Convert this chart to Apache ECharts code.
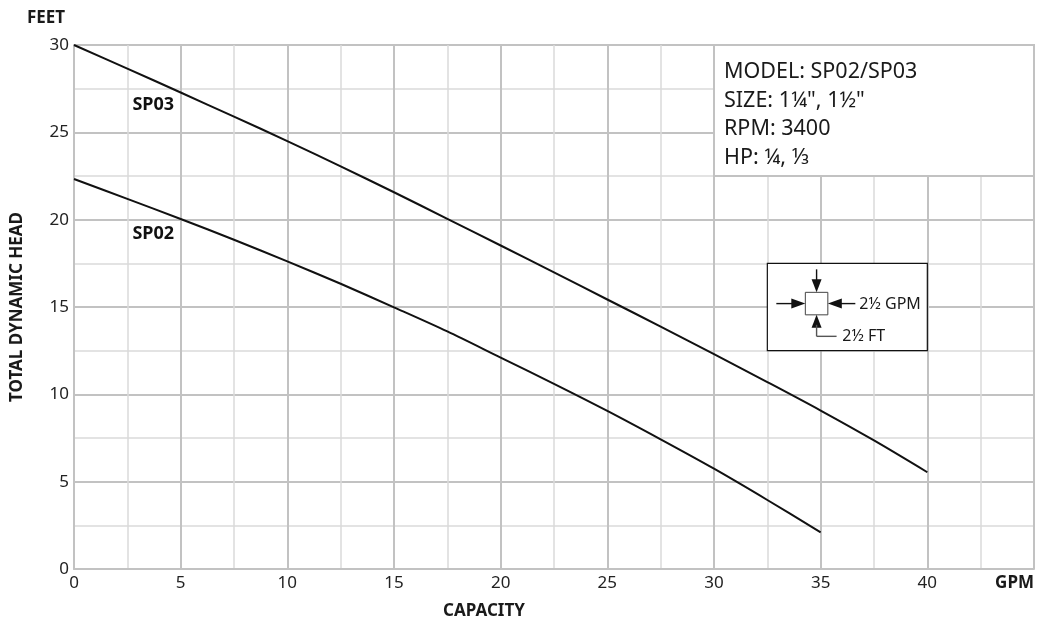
<!DOCTYPE html>
<html><head><meta charset="utf-8">
<script src="https://cdn.jsdelivr.net/npm/echarts@6/dist/echarts.min.js"></script>
<style>html,body{margin:0;padding:0;background:#fff}#c{width:1044px;height:620px}</style>
</head><body><div id="c"></div>
<script>
// ---- data ----
const gpmSP03 = [0,2.5,5,7.5,10,12.5,15,17.5,20,22.5,25,27.5,30,32.5,35,37.5,40];
const headSP03 = [30,28.65,27.28,25.9,24.5,23.05,21.57,20.05,18.52,16.98,15.43,13.88,12.3,10.7,9.07,7.36,5.54];
const gpmSP02 = [0,2.5,5,7.5,10,12.5,15,17.5,20,22.5,25,27.5,30,32.5,35];
const headSP02 = [22.33,21.19,20.04,18.85,17.61,16.33,14.98,13.6,12.1,10.6,9.05,7.42,5.74,3.95,2.1];
const curveNames = ['SP03','SP02'];
const curveLabelPos = [[2.74,26.6],[2.74,19.2]];
const infoLines = ['MODEL: SP02/SP03','SIZE: 1¼", 1½"','RPM: 3400','HP: ¼, ⅓'];
const xUnit = 'GPM';
const yUnit = 'FEET';
const xTitle = 'CAPACITY';
const yTitle = 'TOTAL DYNAMIC HEAD';
const scaleText = ['2½ GPM','2½ FT'];

const FONT = '"Noto Sans", "DejaVu Sans", sans-serif';
const major = '#c2c2c2', minor = '#dadada';
const chart = echarts.init(document.getElementById('c'), null, {renderer:'canvas'});

function pairs(xs, ys){ return xs.map((x,i)=>[x, ys[i]]); }

const option = {
  animation:false,
  backgroundColor:'#fff',
  grid:{left:74, right:10, top:45, bottom:51, containLabel:false, outerBoundsMode:'none'},
  xAxis:{
    type:'value', min:0, max:45, interval:5,
    axisLine:{show:true, lineStyle:{color:major, width:2}},
    axisTick:{show:false},
    axisLabel:{margin:6, color:'#222', fontSize:17, fontFamily:FONT, alignMaxLabel:'right',
      formatter:v=> v===45 ? '{b|'+xUnit+'}' : String(v),
      rich:{b:{fontWeight:'bold', fontSize:17, color:'#1a1a1a', fontFamily:FONT}}},
    splitLine:{show:true, lineStyle:{color:major, width:2}},
    minorTick:{show:false, splitNumber:2},
    minorSplitLine:{show:true, lineStyle:{color:minor, width:1.5}}
  },
  yAxis:{
    type:'value', min:0, max:30, interval:5,
    name:yTitle, nameLocation:'middle', nameGap:48,
    nameTextStyle:{fontWeight:'bold', fontSize:17, color:'#1a1a1a', fontFamily:FONT},
    axisLine:{show:true, lineStyle:{color:major, width:2}},
    axisTick:{show:false},
    axisLabel:{margin:5, color:'#222', fontSize:17, fontFamily:FONT},
    splitLine:{show:true, lineStyle:{color:major, width:2}},
    minorTick:{show:false, splitNumber:2},
    minorSplitLine:{show:true, lineStyle:{color:minor, width:1.5}}
  },
  series:[
    {type:'line', name:curveNames[0], data:pairs(gpmSP03, headSP03), showSymbol:false, smooth:0.3,
     lineStyle:{color:'#111', width:2}, z:3},
    {type:'line', name:curveNames[1], data:pairs(gpmSP02, headSP02), showSymbol:false, smooth:0.3,
     lineStyle:{color:'#111', width:2}, z:3},
    {type:'scatter', symbolSize:0, silent:true, z:4, itemStyle:{opacity:1},
     data:curveLabelPos.map((p,i)=>({value:p, name:curveNames[i]})),
     label:{show:true, position:'right', distance:0, formatter:'{b}', fontWeight:'bold', fontSize:18,
       color:'#111', opacity:1, textBorderWidth:0, fontFamily:FONT}}
  ]
};
chart.setOption(option);

const P = (x,y)=>chart.convertToPixel({gridIndex:0},[x,y]);
const g = [];
// axis titles
g.push({type:'text', z:20, style:{text:yUnit, x:46, y:18, align:'center', verticalAlign:'middle',
  font:'bold 17px '+FONT, fill:'#1a1a1a'}});
g.push({type:'text', z:20, style:{text:xTitle, x:484, y:611, align:'center', verticalAlign:'middle',
  font:'bold 17px '+FONT, fill:'#1a1a1a'}});
// info box
const a = P(30,30), b = P(45,22.5);
g.push({type:'rect', z:10, shape:{x:a[0], y:a[1], width:b[0]-a[0], height:b[1]-a[1]},
  style:{fill:'#fff', stroke:major, lineWidth:2}});
infoLines.forEach((t,i)=>{
  g.push({type:'text', z:11, style:{text:t, x:a[0]+10, y:a[1]+27+i*28.5, align:'left', verticalAlign:'middle',
    font:'21.5px '+FONT, fill:'#1a1a1a'}});
});
// scale inset
const c1 = P(32.5,17.5), c2 = P(40,12.5);
const bx=c1[0], by=c1[1];
g.push({type:'rect', z:10, shape:{x:bx, y:by, width:c2[0]-c1[0], height:c2[1]-c1[1]},
  style:{fill:'#fff', stroke:'#111', lineWidth:1.2}});
const sx=bx+38, sy=by+29, sw=22.5;
g.push({type:'rect', z:11, shape:{x:sx, y:sy, width:sw, height:sw}, style:{fill:'#fff', stroke:'#444', lineWidth:1}});
const cy = sy+sw/2, cx = sx+sw/2;
const L = (x1,y1,x2,y2,col)=>({type:'line', z:11, shape:{x1,y1,x2,y2}, style:{stroke:col||'#111', lineWidth:1.4}});
const T = (pts)=>({type:'polygon', z:11, shape:{points:pts}, style:{fill:'#111'}});
// left arrow ->
g.push(L(bx+9, cy, sx-12, cy)); g.push(T([[sx,cy],[sx-14,cy-5],[sx-14,cy+5]]));
// right arrow <-
g.push(L(bx+88, cy, sx+sw+12, cy)); g.push(T([[sx+sw,cy],[sx+sw+14,cy-5],[sx+sw+14,cy+5]]));
// top arrow down
g.push(L(cx, by+6, cx, sy-10)); g.push(T([[cx,sy],[cx-5,sy-13],[cx+5,sy-13]]));
// bottom arrow up + leader
g.push(T([[cx,sy+sw],[cx-5,sy+sw+13],[cx+5,sy+sw+13]]));
g.push(L(cx, sy+sw+10, cx, by+73, '#555'));
g.push(L(cx, by+73, cx+20, by+73, '#555'));
g.push({type:'text', z:11, style:{text:scaleText[0], x:bx+92, y:cy+1, align:'left', verticalAlign:'middle',
  font:'16px '+FONT, fill:'#1a1a1a'}});
g.push({type:'text', z:11, style:{text:scaleText[1], x:bx+75, y:by+73.5, align:'left', verticalAlign:'middle',
  font:'16px '+FONT, fill:'#1a1a1a'}});
chart.setOption({graphic:{elements:g}});
</script></body></html>
